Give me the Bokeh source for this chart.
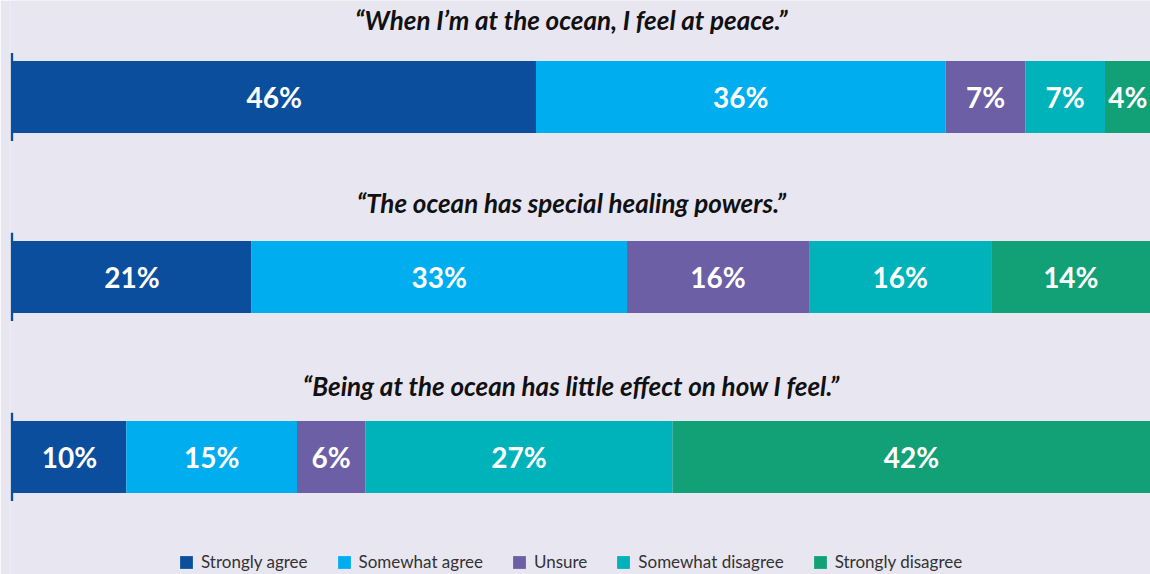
import numpy as np
from bokeh.plotting import figure
from bokeh.models import Range1d, ColumnDataSource, Legend, LegendItem
from bokeh.core.properties import value
from bokeh.embed import file_html
from bokeh.resources import INLINE

statements = [
    "\u201cWhen I\u2019m at the ocean, I feel at peace.\u201d",
    "\u201cThe ocean has special healing powers.\u201d",
    "\u201cBeing at the ocean has little effect on how I feel.\u201d",
]
categories = ["Strongly agree", "Somewhat agree", "Unsure", "Somewhat disagree", "Strongly disagree"]
colors = ["#0c4e9e", "#00aeef", "#6c5fa5", "#00b2b9", "#12a077"]
strongly_agree = [46, 21, 10]
somewhat_agree = [36, 33, 15]
unsure = [7, 16, 6]
somewhat_disagree = [7, 16, 27]
strongly_disagree = [4, 14, 42]

series = [strongly_agree, somewhat_agree, unsure, somewhat_disagree, strongly_disagree]
rows = np.arange(len(statements))

BG = "#e8e6f1"
FONT = "Lato"

p = figure(width=1150, height=574, output_backend="svg", toolbar_location=None,
           x_range=Range1d(-0.176, 100), y_range=Range1d(2.653, -0.536),
           min_border_left=10, min_border_right=0, min_border_top=0, min_border_bottom=0,
           x_axis_location=None, y_axis_location=None)
p.background_fill_color = BG
p.border_fill_color = BG
p.outline_line_color = None
p.grid.visible = False

# axis stubs per bar
p.segment(x0=np.zeros(3) - 0.05, x1=np.zeros(3) - 0.05, y0=rows - 0.245, y1=rows + 0.245,
          line_color="#0c4e9e", line_width=2.5)

vals = np.array(series, dtype=float)
lefts = np.vstack([np.zeros(vals.shape[1]), np.cumsum(vals, axis=0)[:-1]])
rights = np.cumsum(vals, axis=0)

items = []
for i, cat in enumerate(categories):
    src = ColumnDataSource(dict(y=rows, left=lefts[i], right=rights[i]))
    r = p.hbar(y="y", left="left", right="right", height=0.4, source=src,
               fill_color=colors[i], line_color=None)
    items.append(LegendItem(label=cat, renderers=[r]))

for i in range(len(categories)):
    mids = (lefts[i] + rights[i]) / 2
    labels = [f"{int(v)}%" for v in vals[i]]
    p.text(x=mids, y=rows, text=labels, text_align="center", text_baseline="middle",
           text_color="white", text_font=value(FONT), text_font_style="bold",
           text_font_size="28px")

title_y = rows - np.array([0.425, 0.41, 0.395])
p.text(x=np.full(3, 49.1), y=title_y, text=statements, text_align="center",
       text_baseline="middle", text_color="#111111", text_font=value(FONT),
       text_font_style="bold italic", text_font_size="26px")

legend = Legend(items=items, orientation="horizontal", location=(168, 2),
                label_text_font=FONT, label_text_font_size="17px", label_text_color="#333333",
                glyph_width=16, glyph_height=16, label_standoff=7, spacing=28,
                background_fill_alpha=0, border_line_color=None, margin=0, padding=2)
p.add_layout(legend)

open("out.html", "w").write(file_html(p, INLINE))
